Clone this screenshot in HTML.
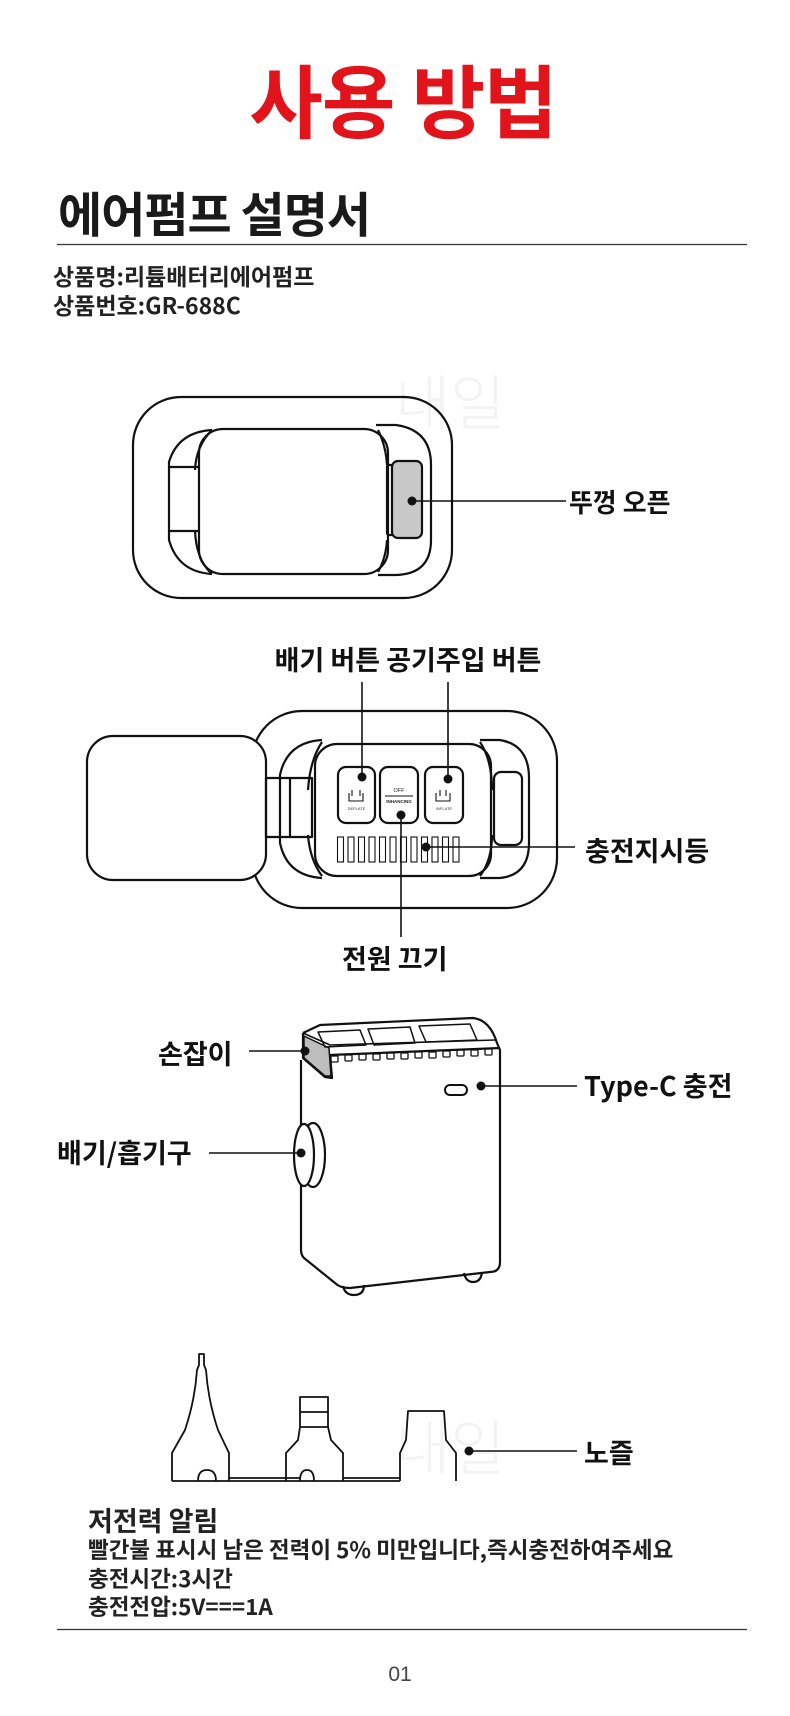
<!DOCTYPE html>
<html><head><meta charset="utf-8"><style>
html,body{margin:0;padding:0;background:#fff;}
svg{display:block;}
text{font-family:"Liberation Sans","Noto Sans CJK KR",sans-serif;}
.k{font-family:"Noto Sans CJK KR","Liberation Sans",sans-serif;font-weight:700;}
</style></head><body>
<svg width="790" height="1716" viewBox="0 0 790 1716" xmlns="http://www.w3.org/2000/svg">
<g fill="#f3f3f3" class="k">
<text x="395" y="425" font-size="60" font-weight="300">내일</text>
<text x="395" y="1470" font-size="60" font-weight="300">내일</text>
</g>
<text x="403" y="132" class="k" font-size="80" fill="#e2141b" text-anchor="middle" letter-spacing="-1">사용 방법</text>
<text x="58" y="232" class="k" font-size="48" fill="#1a1a1a" letter-spacing="-1">에어펌프 설명서</text>
<line x1="57" y1="244.5" x2="747" y2="244.5" stroke="#333" stroke-width="1.2"/>
<text x="53" y="285" class="k" font-size="23" fill="#222">상품명:리튬배터리에어펌프</text>
<text x="53" y="314" class="k" font-size="23" fill="#222">상품번호:GR-688C</text>

<g fill="none" stroke="#111" stroke-width="2.2" stroke-linejoin="round">
<rect x="133" y="397" width="319" height="201" rx="48"/>
<rect x="199" y="429" width="189" height="145" rx="24"/>
<path d="M212 430 Q178 432 169 462 L169 540 Q178 572 212 574"/>
<path d="M169 467 L199 467 M169 531 L199 531"/>
<path d="M212 430 Q196 446 195 470 M212 574 Q196 560 195 530"/>
<path d="M376 425 L396 425 Q431 430 431 465 L431 540 Q431 574 396 575 L378 575"/>
<path d="M378 430 Q386 446 387 465 M378 572 Q386 558 387 540"/>
<rect x="387" y="465" width="7" height="70" rx="2"/>
<rect x="392" y="461" width="30" height="77" rx="6" fill="#c8c8c8"/>
</g>
<circle cx="412" cy="501" r="4.5" fill="#111"/>
<line x1="412" y1="501" x2="566" y2="501" stroke="#111" stroke-width="1.6"/>
<text x="569" y="512" class="k" font-size="26" fill="#111">뚜껑 오픈</text>

<text x="408" y="670" class="k" font-size="27" fill="#111" text-anchor="middle">배기 버튼 공기주입 버튼</text>
<g fill="none" stroke="#111" stroke-width="2.2" stroke-linejoin="round">
<rect x="252" y="711" width="305" height="197" rx="50"/>
<rect x="87" y="736" width="179" height="144" rx="26" fill="#fff"/>
<rect x="266" y="778" width="46" height="59"/>
<line x1="290" y1="778" x2="290" y2="837"/>
<path d="M322 740 Q287 742 280 775 L280 843 Q287 876 322 878"/>
<path d="M322 742 Q310 760 308 790 M322 876 Q310 860 308 835"/>
<rect x="315" y="744" width="176" height="132" rx="22"/>
<path d="M480 740 L500 740 Q529 745 529 778 L529 843 Q529 875 500 878 L480 878"/>
<path d="M480 742 Q492 760 492 790 M480 876 Q492 860 492 835"/>
<rect x="494" y="772" width="28" height="73" rx="7"/>
<rect x="338" y="767" width="37" height="56" rx="8"/>
<rect x="380" y="767" width="38" height="56" rx="8"/>
<rect x="425" y="767" width="38" height="56" rx="8"/>
</g>
<g fill="none" stroke="#111" stroke-width="1.1">
<rect x="337.5" y="837" width="6" height="25"/><rect x="348" y="837" width="6" height="25"/><rect x="358.5" y="837" width="6" height="25"/><rect x="369" y="837" width="6" height="25"/><rect x="379.5" y="837" width="6" height="25"/><rect x="390" y="837" width="6" height="25"/><rect x="400.5" y="837" width="6" height="25"/><rect x="411" y="837" width="6" height="25"/><rect x="421.5" y="837" width="6" height="25"/><rect x="432" y="837" width="6" height="25"/><rect x="442.5" y="837" width="6" height="25"/><rect x="453" y="837" width="6" height="25"/>
<path d="M349 793 v8 h14 v-8 M352 796 v-6 M360 796 v-6"/>
<path d="M436 793 v8 h14 v-8 M440 790 v6 M446 790 v6"/>
<line x1="385" y1="796" x2="413" y2="796"/>
</g>
<text x="356.5" y="810" font-size="4" text-anchor="middle" fill="#333">DEFLATE</text>
<text x="444" y="810" font-size="4" text-anchor="middle" fill="#333">INFLATE</text>
<text x="399" y="792" font-size="5.5" text-anchor="middle" fill="#222">OFF</text>
<text x="399" y="803" font-size="4.5" font-weight="700" text-anchor="middle" fill="#222">INHANCING</text>
<g stroke="#111" stroke-width="1.6">
<line x1="362" y1="682" x2="362" y2="777"/>
<line x1="448" y1="682" x2="448" y2="779"/>
<line x1="401" y1="815" x2="401" y2="937"/>
<line x1="426" y1="847" x2="575" y2="847"/>
</g>
<g fill="#111"><circle cx="362" cy="777" r="4.5"/><circle cx="448" cy="779" r="4.5"/><circle cx="401" cy="815" r="4.5"/><circle cx="426" cy="847" r="4.5"/></g>
<text x="585" y="861" class="k" font-size="27" fill="#111">충전지시등</text>
<text x="342" y="969" class="k" font-size="27" fill="#111">전원 끄기</text>

<g fill="none" stroke="#111" stroke-width="2.2" stroke-linejoin="round">
<path d="M303 1033 L320 1025 L473 1018 Q490 1020 497 1043 L500 1050 L500 1262 Q500 1272 490 1272 L350 1288 Q340 1288 335 1283 L304 1258 Q301 1255 301 1250 L301 1060"/>
<path d="M303 1033 L303 1058 L325 1077 L332 1078 L330 1055 L500 1048"/>
<path d="M303 1033 L330 1045 L495 1040" stroke-width="1.6"/>
<path d="M343 1286 Q345 1295 354 1295 Q364 1295 364 1285"/>
<path d="M464 1273 Q466 1282 473 1282 Q481 1282 482 1272"/>
</g>
<path d="M304 1036 L329 1048 L331 1076 L325 1076 L304 1058 Z" fill="#bdbdbd" stroke="#111" stroke-width="1.5"/>
<g fill="none" stroke="#111" stroke-width="1.5" stroke-linejoin="round">
<path d="M318 1032 L360 1030 L366 1045 L325 1047 Z"/>
<path d="M368 1029 L410 1027 L415 1043 L374 1045 Z"/>
<path d="M419 1026 L470 1024 L477 1040 L426 1042 Z"/>
<g stroke-width="1.3">
<rect x="331" y="1056" width="7" height="6" rx="1"/><rect x="345" y="1055" width="7" height="6" rx="1"/><rect x="359" y="1054" width="7" height="6" rx="1"/><rect x="373" y="1054" width="7" height="6" rx="1"/><rect x="387" y="1053" width="7" height="6" rx="1"/><rect x="401" y="1053" width="7" height="6" rx="1"/><rect x="415" y="1052" width="7" height="6" rx="1"/><rect x="429" y="1052" width="7" height="6" rx="1"/><rect x="443" y="1051" width="7" height="6" rx="1"/><rect x="457" y="1050" width="7" height="6" rx="1"/><rect x="471" y="1050" width="7" height="6" rx="1"/><rect x="485" y="1049" width="7" height="6" rx="1"/>
</g>
<rect x="445" y="1085" width="22" height="10" rx="5" stroke-width="2"/>
</g>
<g fill="#fff" stroke="#111" stroke-width="2.2">
<ellipse cx="313" cy="1155" rx="12" ry="32"/>
<ellipse cx="304" cy="1155" rx="10" ry="31"/>
</g>
<g stroke="#111" stroke-width="1.6">
<line x1="249" y1="1051" x2="304" y2="1051"/>
<line x1="481" y1="1086" x2="577" y2="1086"/>
<line x1="209" y1="1153" x2="301" y2="1153"/>
</g>
<g fill="#111"><circle cx="305" cy="1051" r="4.5"/><circle cx="481" cy="1086" r="4.5"/><circle cx="301" cy="1153" r="4.5"/></g>
<text x="158" y="1064" class="k" font-size="27" fill="#111">손잡이</text>
<text x="584" y="1096" class="k" font-size="27" fill="#111">Type-C 충전</text>
<text x="57" y="1163" class="k" font-size="27" fill="#111">배기/흡기구</text>

<g fill="none" stroke="#111" stroke-width="1.8" stroke-linejoin="round">
<line x1="172" y1="1481" x2="400" y2="1481"/>
<path d="M172 1481 L172 1453 L185 1430 Q195 1400 197 1370 L199 1365 L199 1354 L204 1354 L204 1365 L206 1370 Q208 1400 218 1430 L229 1453 L229 1481"/>
<path d="M286 1481 L286 1453 L298 1440 L300 1427 L300 1397 L328 1397 L328 1427 L331 1440 L343 1453 L343 1481"/>
<line x1="300" y1="1412" x2="328" y2="1412"/><line x1="300" y1="1427" x2="328" y2="1427"/>
<path d="M400 1481 L400 1453 L406 1440 L408 1411 L444 1411 L446 1440 L456 1453 L456 1481"/>
<path d="M229 1478 L300 1478 M343 1478 L400 1478"/>
<path d="M198 1481 Q198 1470 207 1470 Q216 1470 216 1481"/>
<path d="M300 1481 Q300 1470 307 1470 Q314 1470 314 1481"/>
</g>
<circle cx="469" cy="1451" r="4.5" fill="#111"/>
<line x1="469" y1="1451" x2="577" y2="1451" stroke="#111" stroke-width="1.6"/>
<text x="584" y="1463" class="k" font-size="27" fill="#111">노즐</text>

<text x="88" y="1531" class="k" font-size="27" fill="#222">저전력 알림</text>
<text x="88" y="1558" class="k" font-size="22.5" fill="#222">빨간불 표시시 남은 전력이 5% 미만입니다,즉시충전하여주세요</text>
<text x="88" y="1587" class="k" font-size="22.5" fill="#222">충전시간:3시간</text>
<text x="88" y="1615" class="k" font-size="22.5" fill="#222">충전전압:5V===1A</text>
<line x1="57" y1="1629.5" x2="747" y2="1629.5" stroke="#333" stroke-width="1.2"/>
<text x="400" y="1681" font-size="21" fill="#444" text-anchor="middle">01</text>
</svg>
</body></html>
